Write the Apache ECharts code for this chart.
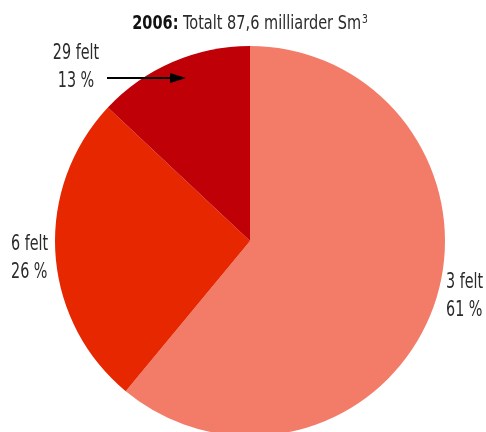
<!DOCTYPE html>
<html>
<head>
<meta charset="utf-8">
<script src="https://cdn.jsdelivr.net/npm/echarts@6/dist/echarts.min.js"></script>
<style>
html,body{margin:0;padding:0;background:#fff;}
#chart{width:486px;height:432px;}
</style>
</head>
<body>
<div id="chart"></div>
<script>
const categories = ['3 felt', '6 felt', '29 felt'];
const values = [61, 26, 13];
const percentLabels = ['61 %', '26 %', '13 %'];
const titleYear = '2006:';
const titleText = ' Totalt 87,6 milliarder Sm';
const titleSup = '3';

const colors = ['#F37C69', '#E62700', '#BF0007'];
const FONT = '"DejaVu Sans Condensed", "DejaVu Sans", sans-serif';
const TXT = '#2b2b2b';
const SX = 0.76;

const labelPos = [
  { x: 446, y: 281, align: 'left' },
  { x: 11, y: 243, align: 'left' },
  { x: 76, y: 52, align: 'center' }
];

const chart = echarts.init(document.getElementById('chart'), null, { renderer: 'canvas' });

const graphics = [];
categories.forEach((c, i) => {
  graphics.push({
    type: 'text',
    x: labelPos[i].x, y: labelPos[i].y - 12,
    scaleX: SX,
    style: {
      text: c + '\n' + percentLabels[i],
      font: '300 21px ' + FONT,
      fill: TXT,
      textAlign: labelPos[i].align,
      textVerticalAlign: 'top',
      lineHeight: 28
    }
  });
});
graphics.push({
  type: 'text',
  x: 250, y: 24,
  scaleX: 0.85,
  style: {
    text: '{b|' + titleYear + '}{n|' + titleText + '}{s|' + titleSup + '}',
    textAlign: 'center',
    textVerticalAlign: 'middle',
    rich: {
      b: { fontFamily: FONT, fontSize: 19, fontWeight: 'bold', fill: '#111', color: '#111' },
      n: { fontFamily: FONT, fontSize: 19, fontWeight: 'normal', fill: TXT, color: TXT },
      s: { fontFamily: FONT, fontSize: 12, fontWeight: 'normal', fill: TXT, color: TXT, verticalAlign: 'top', padding: [0, 0, 8, 1] }
    }
  }
});
graphics.push({
  type: 'line',
  shape: { x1: 107, y1: 78, x2: 176, y2: 78 },
  style: { stroke: '#000', lineWidth: 2 },
  z: 10
});
graphics.push({
  type: 'polygon',
  shape: { points: [[170, 73], [186, 78], [170, 83]] },
  style: { fill: '#000' },
  z: 10
});

chart.setOption({
  animation: false,
  series: [{
    type: 'pie',
    center: [250, 241],
    radius: 195,
    startAngle: 90,
    clockwise: true,
    label: { show: false },
    labelLine: { show: false },
    emphasis: { disabled: true },
    itemStyle: { borderWidth: 0 },
    data: categories.map((c, i) => ({ name: c, value: values[i], itemStyle: { color: colors[i] } }))
  }],
  graphic: graphics
});
</script>
</body>
</html>
